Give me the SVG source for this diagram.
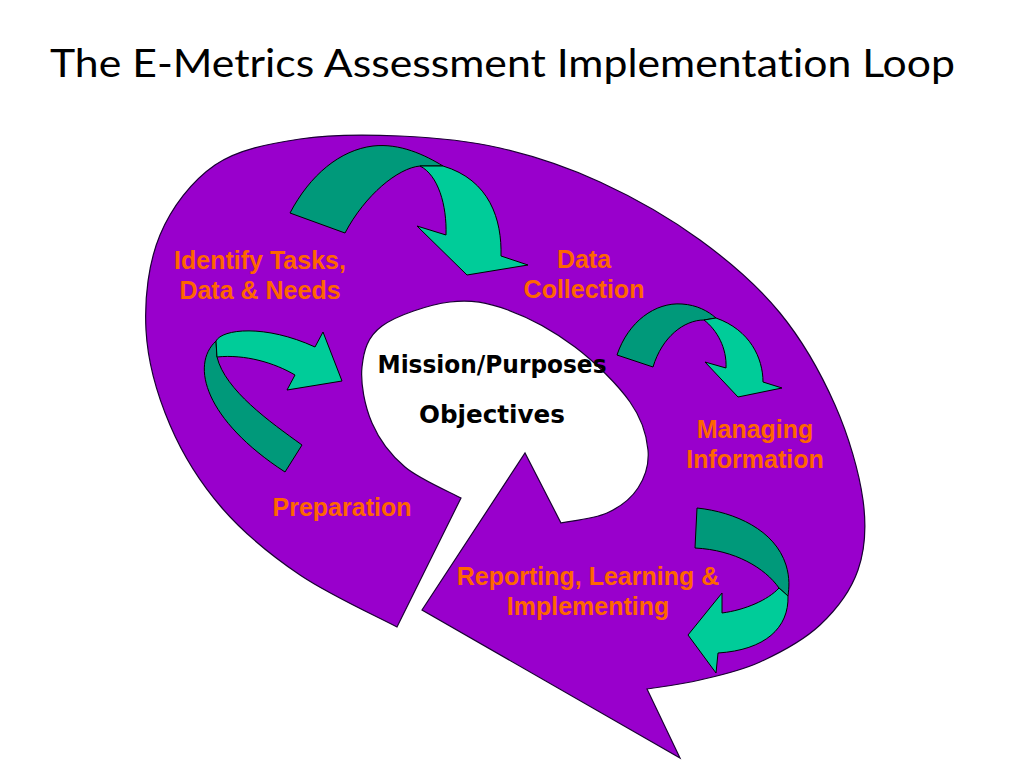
<svg xmlns="http://www.w3.org/2000/svg" width="1024" height="768" viewBox="0 0 1024 768">
<style>
.loop{fill:#9900CC;stroke:#1a0033;stroke-width:1.2;stroke-linejoin:miter}
.lbl{font-family:"Liberation Sans",Arial,sans-serif;font-weight:bold;font-size:25px;fill:#FF6600;text-anchor:middle}
.ctr{font-family:"DejaVu Sans",sans-serif;font-weight:bold;font-size:24px;fill:#000;text-anchor:middle}
.title{font-family:"Century Gothic","Lato","Liberation Sans",sans-serif;font-size:38px;fill:#000;font-variant-ligatures:none;font-feature-settings:"liga" 0}
.dk{fill:#00997A;stroke:#000;stroke-width:1}
.lt{fill:#00CC99;stroke:#000;stroke-width:1}
</style>
<rect width="1024" height="768" fill="#fff"/>
<text class="title" x="50" y="77" textLength="905" lengthAdjust="spacingAndGlyphs">The E-Metrics Assessment Implementation Loop</text>
<g id="loop">
<path class="loop" d="M397,627 C380.8,618.3 329.2,594.8 300,575 S243.7,533 222,508 S182.7,454.7 170,425 S147.7,361.7 146,330 S148.5,262.5 160,235 S191.7,181 215,165 S269.2,143.8 300,139 S366.7,134.5 400,136 S466.7,140.3 500,148 S566.7,166.7 600,182 S670,218.2 700,240 S757.5,285.5 780,313 S821.2,373.8 835,405 S859.2,472.5 863,500 S865.2,549.2 858,570 S836.3,609.7 820,625 S780,652.8 760,662 S718.8,675.5 700,680 S655.8,687.5 647,689 L680,758 L422,610 L525,453 L561,523 C568.7,521.3 594.2,518.8 607,513 S631.2,498.5 638,488 S649.3,464.3 648,450 S642.2,419.2 630,402 S595.3,362.3 575,347 S528.8,317.5 508,310 S471,299.3 450,302 S396.7,315.2 382,326 S363.7,350.8 362,367 S364.8,406.3 372,423 S390.2,454.5 405,467 S451.7,492.8 461,498 L397,627 Z"/>
</g>
<g id="center">
<text class="ctr" x="492" y="373" textLength="229" lengthAdjust="spacingAndGlyphs">Mission/Purposes</text>
<text class="ctr" x="492" y="423" textLength="146" lengthAdjust="spacingAndGlyphs">Objectives</text>
</g>
<g id="identify">
<text class="lbl" x="260" y="269">Identify Tasks,</text>
<text class="lbl" x="260" y="299">Data &amp; Needs</text>
</g>
<g id="datacollection">
<text class="lbl" x="584" y="268">Data</text>
<text class="lbl" x="584" y="298">Collection</text>
</g>
<g id="managing">
<text class="lbl" x="755" y="438">Managing</text>
<text class="lbl" x="755" y="468">Information</text>
</g>
<g id="reporting">
<text class="lbl" x="588" y="585">Reporting, Learning &amp;</text>
<text class="lbl" x="588" y="615">Implementing</text>
</g>
<g id="preparation">
<text class="lbl" x="342" y="516">Preparation</text>
</g>
<g id="connectors">
<g id="arrow-identify-data">
<path class="dk" d="M290,213 C310,175 340,150 373,146 C400,143 425,155 443,166 L420,166 C398,168 365,195 345,233 Z"/>
<path class="lt" d="M420,166 C438,175 447,205 446,235 L417,226 L467,275 L528,265 L501,256 C502,220 490,180 443,166 Z"/>
</g>
<g id="arrow-data-managing">
<path class="dk" d="M617,355 C628,322 655,302 682,304 C697,305 708,311 716,318 L704,320 C684,320 662,337 653,367 Z"/>
<path class="lt" d="M704,320 C717,330 727,348 726,368 L705,362 L738,397 L782,388 L763,382 C763,358 750,330 716,318 Z"/>
</g>
<g id="arrow-managing-reporting">
<path class="dk" d="M697,508 C735,512 775,530 786,565 C790,578 789,588 788,596 L779,588 C765,568 735,550 695,548 Z"/>
<path class="lt" d="M779,588 L788,596 C789,628 765,650 718,653 L716,673 L688,635 L722,593 L722,613 C745,610 768,600 779,588 Z"/>
</g>
<g id="arrow-preparation-identify">
<path class="dk" d="M216,341 C190,365 205,420 285,472 L302,445 C270,422 225,390 217,357 Z"/>
<path class="lt" d="M217,357 L216,341 C222,329 265,324 315,347 L323,332 L342,381 L287,390 L295,375 C275,363 245,354 217,357 Z"/>
</g>
</g>
</svg>
